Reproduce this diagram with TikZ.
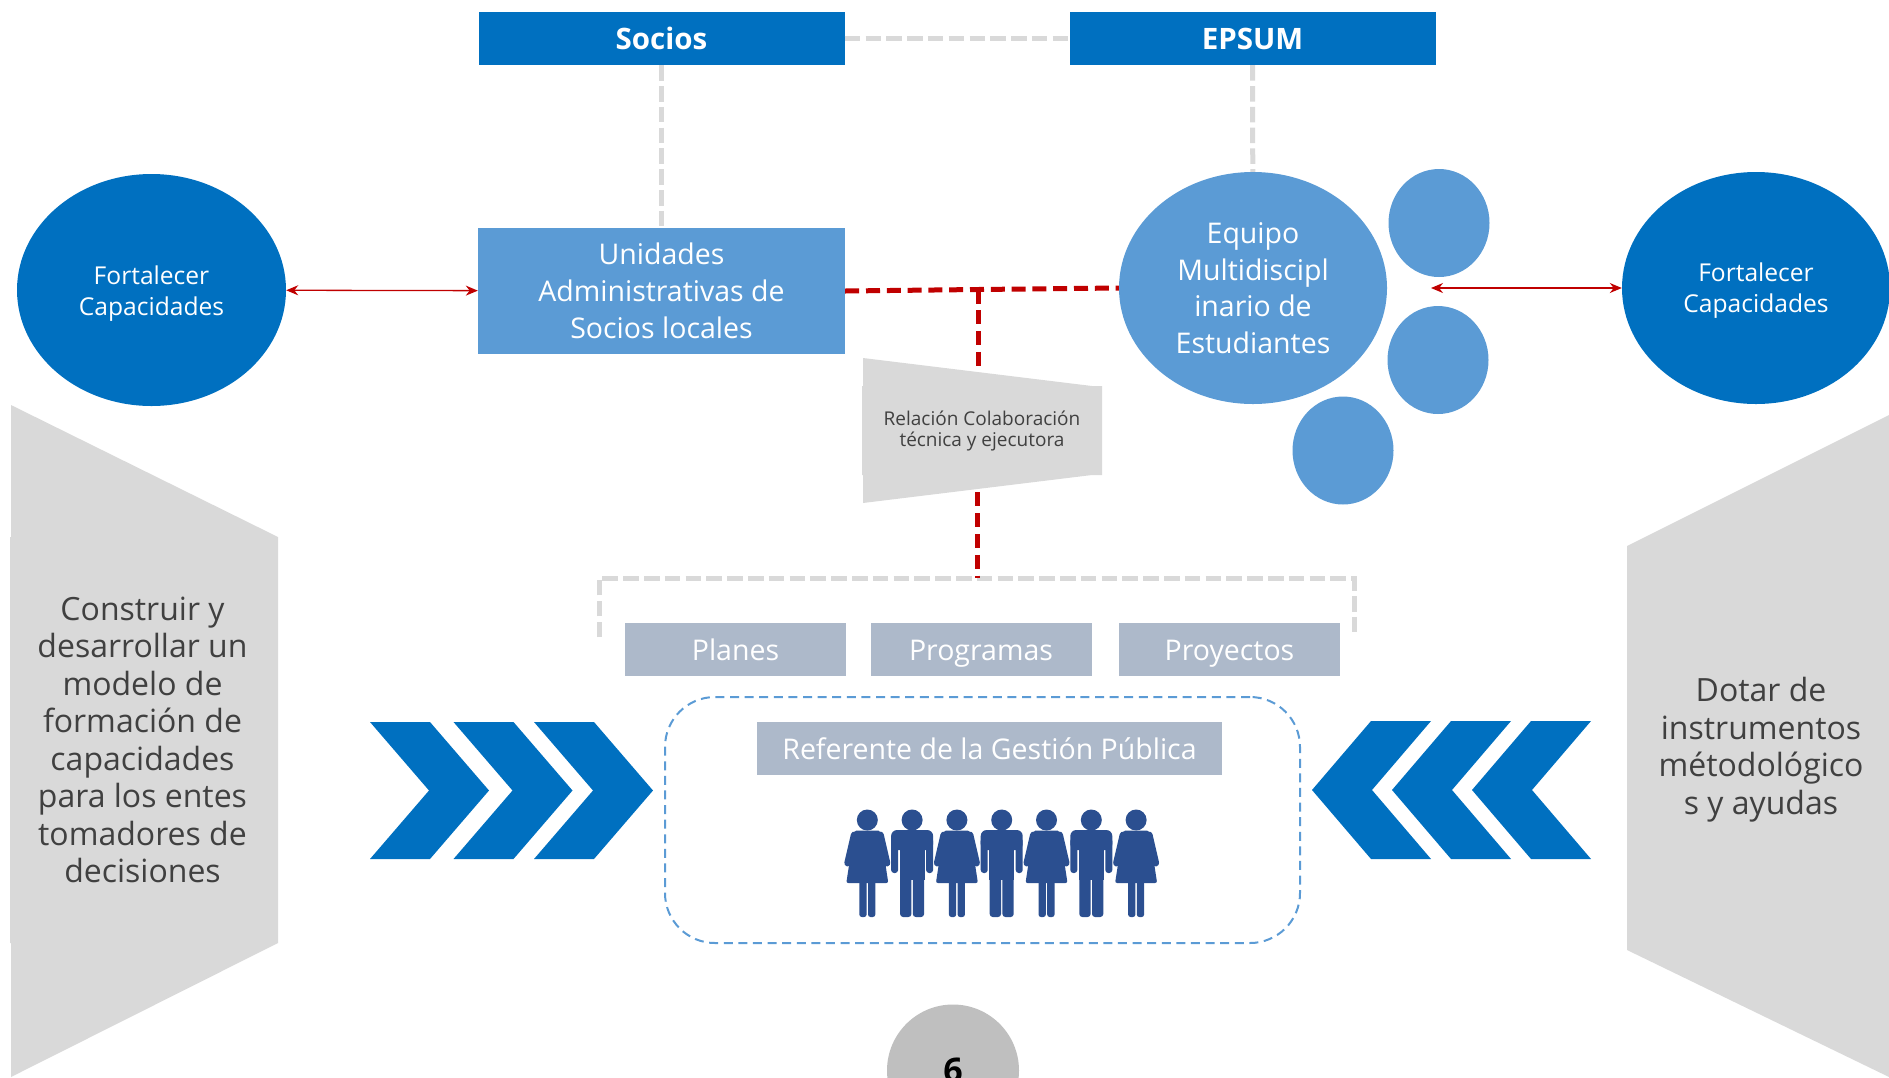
\documentclass[tikz,border=0pt]{standalone}
\usepackage{fontspec}
\setmainfont{Open Sans}
\usetikzlibrary{shapes.geometric}
\usetikzlibrary{arrows.meta}

\definecolor{azul}{HTML}{0070C0}
\definecolor{celeste}{HTML}{5B9BD5}
\definecolor{gris}{HTML}{D9D9D9}
\definecolor{grisazul}{HTML}{ADB9CA}
\definecolor{rojo}{HTML}{C00000}
\definecolor{marino}{HTML}{2B4F90}
\definecolor{texto}{HTML}{404040}

\tikzset{
  caja/.style={rectangle, inner sep=0pt, text=white, align=center, font=\fontsize{28.5}{37}\selectfont},
  titulo/.style={caja, fill=azul, minimum width=366pt, minimum height=53pt, font=\fontsize{29.5}{34}\selectfont\bfseries},
  nivel/.style={caja, fill=grisazul, minimum width=221pt, minimum height=53pt, text height=24.5pt, text depth=3.3pt},
  burbuja/.style={ellipse, inner sep=0pt, text=white, align=center, minimum width=268pt, minimum height=232pt},
  punto/.style={ellipse, fill=celeste, inner sep=0pt, minimum width=101pt, minimum height=108pt},
  lateral/.style={align=center, text=texto, font=\fontsize{32}{37.5}\selectfont},
  enlace/.style={draw=gris, line width=5pt, dash pattern=on 15.5pt off 5.3pt},
  colabora/.style={draw=rojo, line width=5pt, dash pattern=on 14pt off 6.8pt},
  doble/.style={draw=rojo, line width=1.3pt, {Stealth[length=12pt,width=10pt]}-{Stealth[length=12pt,width=10pt]}},
  mujer/.pic={
    \fill[marino] (0,0) circle[radius=10.5];
    \fill[marino, rounded corners=2pt] (-13,10.5) -- (13,10.5) -- (21,63) -- (-21,63) -- cycle;
    \draw[marino, line width=7pt, line cap=round, line join=round] (-13,15) -- (-19.5,43);
    \draw[marino, line width=7pt, line cap=round, line join=round] (13,15) -- (19.5,43);
    \fill[marino, rounded corners=2.5pt] (-8,55) rectangle (-0.7,97);
    \fill[marino, rounded corners=2.5pt] (0.7,55) rectangle (8,97);
  },
  hombre/.pic={
    \fill[marino] (0,0) circle[radius=10.5];
    \fill[marino, rounded corners=6pt] (-21,10) rectangle (21,30);
    \fill[marino] (-12.5,12) rectangle (12.5,60);
    \fill[marino, rounded corners=3pt] (-21,18) rectangle (-14,53);
    \fill[marino, rounded corners=3pt] (14,18) rectangle (21,53);
    \fill[marino, rounded corners=3pt] (-12,52) rectangle (-0.7,97);
    \fill[marino, rounded corners=3pt] (0.7,52) rectangle (12,97);
  },
}

\begin{document}
\begin{tikzpicture}[x=1pt, y=-1pt]
\useasboundingbox (0,0) rectangle (1889,1077);

  % bloques superiores
  \node[titulo] (socios) at (661.5,38.5) {Socios};
  \node[titulo] (epsum) at (1252.5,38.5) {EPSUM};
  \node[caja, fill=celeste, minimum width=367pt, minimum height=126pt] (unidades) at (661.5,291)
       {Unidades\\Administrativas de\\Socios locales};

  % equipo y sus integrantes
  \node[burbuja, fill=celeste, font=\fontsize{28.5}{36.5}\selectfont] (equipo) at (1253,288)
       {Equipo\\Multidiscipl\\inario de\\Estudiantes};
  \node[punto] (integrante1) at (1439,223) {};
  \node[punto] (integrante2) at (1438,360) {};
  \node[punto] (integrante3) at (1343,450.5) {};

  % fortalecer
  \node[burbuja, fill=azul, font=\fontsize{24.6}{31}\selectfont, minimum width=269pt] (fortalecer1) at (151.5,290)
       {\raisebox{-3.5pt}[18pt][6pt]{Fortalecer}\\\raisebox{-3.5pt}[18pt][6pt]{Capacidades}};
  \node[burbuja, fill=azul, font=\fontsize{24.6}{31}\selectfont] (fortalecer2) at (1756,288)
       {\raisebox{-2.5pt}[18pt][6pt]{Fortalecer}\\\raisebox{-2.5pt}[18pt][6pt]{Capacidades}};
  \coordinate (nube) at (1431,288);
  \draw[doble] (fortalecer1) -- (unidades);
  \draw[doble] (nube) -- (fortalecer2);

  % lineas grises
  \draw[enlace] (socios) -- (epsum);
  \draw[enlace] (socios) -- (unidades);
  \draw[enlace] (epsum) -- (equipo);

  % corchete de niveles
  \coordinate (cruce) at (978,289.5);
  \coordinate (corchete) at (977,578);
  \coordinate (corchete1) at (599,637);
  \coordinate (corchete2) at (1354,633);
  \draw[enlace] (corchete1) -- (599,578) -- (corchete) -- (1354,578) -- (corchete2);
  \node[nivel] (planes) at (735.5,649.5) {Planes};
  \node[nivel] (programas) at (981,649.5) {Programas};
  \node[nivel] (proyectos) at (1229.5,649.5) {Proyectos};

  % lineas rojas y relacion
  \draw[colabora] (unidades.east) -- (cruce) -- (equipo.west);
  \draw[colabora] (cruce) -- (978,430);
  \draw[colabora] (977,430) -- (corchete);
  \fill[gris] (863,358) -- (1092,386) -- (1102,386) -- (1102,475) -- (1092,475) -- (863,503)
       -- (863,475) -- (862,475) -- (862,386) -- (863,386) -- cycle;
  \node[align=center, text=texto, inner sep=0pt, font=\fontsize{19}{21}\selectfont] (relacion) at (982,431)
       {Relación Colaboración\\técnica y ejecutora};

  % referente
  \node[rectangle, draw=celeste, line width=2pt, dash pattern=on 9pt off 5.6pt, rounded corners=50pt,
        minimum width=635pt, minimum height=246pt] (gestion) at (982.5,820) {};
  \node[caja, fill=grisazul, minimum width=465pt, minimum height=53pt] (referente) at (989.5,748.5)
       {Referente de la Gestión Pública};
  \foreach \i in {0,2,4,6} \pic at (867.3+44.8*\i,820) {mujer};
  \foreach \i in {1,3,5} \pic at (867.3+44.8*\i,820) {hombre};

  % flechas izquierda
  \foreach \dx in {0,83.5,164}
    \fill[azul] (370+\dx,722) -- (430+\dx,722) -- (489+\dx,790.5) -- (430+\dx,859) -- (370+\dx,859) -- (429+\dx,790.5) -- cycle;

  % flechas derecha
  \foreach \dx in {0,80,160}
    \fill[azul] (1312+\dx,790) -- (1371+\dx,721) -- (1431+\dx,721) -- (1372+\dx,790) -- (1431+\dx,859) -- (1371+\dx,859) -- cycle;

  % laterales
  \fill[gris] (11,405) -- (278,537) -- (278,943) -- (11,1077) -- (11,943) -- (10,943) -- (10,537) -- (11,537) -- cycle;
  \node[lateral] (construir) at (142.5,740) {Construir y\\desarrollar un\\modelo de\\formación de\\capacidades\\para los entes\\tomadores de\\decisiones};
  \fill[gris] (1889,415) -- (1627,546) -- (1627,950) -- (1889,1077) -- cycle;
  \node[lateral] (dotar) at (1761,749.5) {Dotar de\\instrumentos\\métodológico\\s y ayudas};

  % numero de pagina
  \node[circle, fill=black!25, minimum size=132pt, inner sep=0pt, font=\fontsize{34}{40}\selectfont\bfseries] (pagina) at (953,1070.5) {6};

\end{tikzpicture}
\end{document}
